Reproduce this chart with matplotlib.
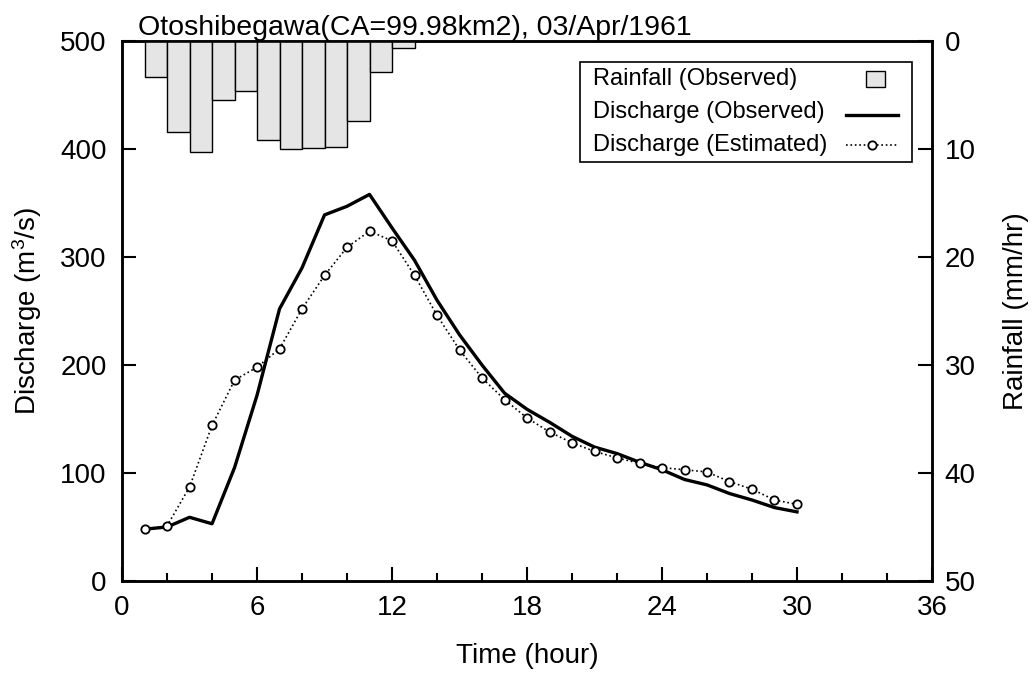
import matplotlib
matplotlib.use("Agg")
import matplotlib.pyplot as plt
from matplotlib.patches import Rectangle
from matplotlib.lines import Line2D

plt.rcParams['font.family'] = ['Liberation Sans', 'DejaVu Sans']
plt.rcParams['mathtext.fontset'] = 'custom'
plt.rcParams['mathtext.rm'] = 'Liberation Sans'
plt.rcParams['mathtext.default'] = 'rm'

# rainfall (mm/hr), hours 1..12
rain_hours = [1, 2, 3, 4, 5, 6, 7, 8, 9, 10, 11, 12]
rain = [3.3, 8.4, 10.3, 5.5, 4.6, 9.2, 9.95, 9.86, 9.77, 7.4, 2.9, 0.6]

# discharge (m3/s), hours 1..30
hours = list(range(1, 31))
q_obs = [48, 50, 59, 53, 105, 172, 252, 290, 339, 347, 358, 327, 297, 260, 228,
         200, 174, 159, 147, 134, 124, 118, 110, 103, 94, 89, 81, 75, 68, 64]
q_est = [48, 51, 87, 144, 186, 198, 215, 252, 283, 309, 324, 315, 283, 246, 214,
         188, 168, 151, 138, 128, 120, 114, 109, 105, 103, 101, 92, 85, 75, 71]

labels = ['Rainfall (Observed)', 'Discharge (Observed)', 'Discharge (Estimated)']
bar_color = '#e5e5e5'

fig = plt.figure(figsize=(10.36, 6.73), dpi=100)
ax = fig.add_axes([0.1178, 0.1367, 0.7818, 0.8023])
ax2 = ax.twinx()

ax.plot(hours, q_obs, color='black', lw=2.4, zorder=3)
ax.plot(hours, q_est, color='black', lw=1.2, ls=':', marker='o', ms=6,
        mfc='white', mec='black', mew=1.3, zorder=4)

ax2.bar(rain_hours, rain, width=1.0, align='edge', color=bar_color,
        edgecolor='black', linewidth=1.0)

ax.set_xlim(0, 36)
ax.set_ylim(0, 500)
ax2.set_ylim(50, 0)

ax.set_xticks(range(0, 37, 6))
ax.set_xticks(range(0, 37, 2), minor=True)
ax.set_yticks(range(0, 501, 100))
ax2.set_yticks(range(0, 51, 10))

ax.tick_params(axis='both', which='major', direction='in', length=10, width=1.5,
               labelsize=20)
ax.tick_params(axis='x', which='major', pad=10)
ax.tick_params(axis='y', which='major', pad=11)
ax.tick_params(axis='x', which='minor', direction='in', length=6, width=1.5)
ax2.tick_params(axis='y', direction='in', length=10, width=1.5, labelsize=20, pad=9)

for a in (ax, ax2):
    for s in a.spines.values():
        s.set_linewidth(1.8)

ax.set_xlabel('Time (hour)', fontsize=20, labelpad=16)
ax.set_ylabel('Discharge (m$^{3}$/s)', fontsize=20, labelpad=12)
ax2.set_ylabel('Rainfall (mm/hr)', fontsize=20, labelpad=20)
ax.set_title('Otoshibegawa(CA=99.98km2), 03/Apr/1961', fontsize=20.5, loc='left',
             x=0.0198, pad=4)

# legend box drawn by hand: labels left, samples right
T = ax2.transAxes
ax2.add_patch(Rectangle((0.5654, 0.7759), 0.4099, 0.1852, transform=T,
                        facecolor='white', edgecolor='black', lw=1.2, zorder=10))
rows = [0.9296, 0.8685, 0.8074]
for lab, yy in zip(labels, rows):
    ax2.text(0.5815, yy, lab, transform=T, fontsize=17, va='center', ha='left',
             zorder=11)
ax2.add_patch(Rectangle((0.9185, rows[0] - 0.0154), 0.0235, 0.0307, transform=T,
                        facecolor=bar_color, edgecolor='black', lw=1.0, zorder=11))
ax2.add_line(Line2D([0.8938, 0.958], [rows[1] - 0.006] * 2, transform=T,
                    color='black', lw=2.4, zorder=11))
ax2.add_line(Line2D([0.8938, 0.958], [rows[2]] * 2, transform=T, color='black',
                    lw=1.2, ls=':', zorder=11))
ax2.add_line(Line2D([0.926], [rows[2]], transform=T, marker='o', ms=6,
                    mfc='white', mec='black', mew=1.3, zorder=12))

fig.savefig('out.png', dpi=100)
